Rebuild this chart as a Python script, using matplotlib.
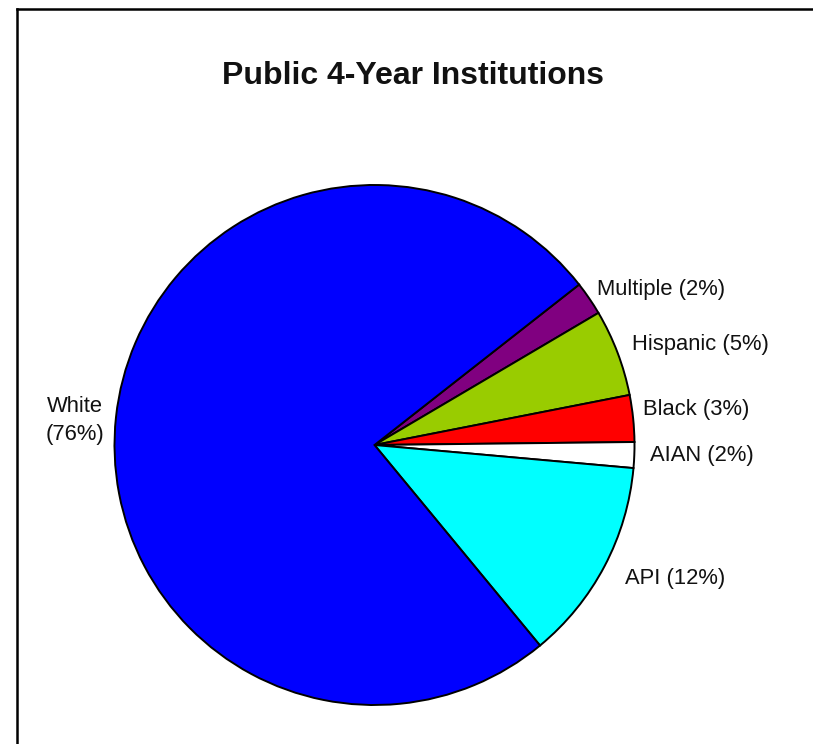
import matplotlib
matplotlib.use("Agg")
import matplotlib.pyplot as plt
from matplotlib.lines import Line2D

plt.rcParams['font.family'] = ['Liberation Sans', 'DejaVu Sans']

categories = ["Multiple", "Hispanic", "Black", "AIAN", "API", "White"]
values = [2.1, 5.4, 2.9, 1.6, 12.6, 75.4]
pct_labels = ["2%", "5%", "3%", "2%", "12%", "76%"]
colors = ["#800080", "#99CC00", "#FF0000", "#FFFFFF", "#00FFFF", "#0000FF"]
title = "Public 4-Year Institutions"

W, H = 813, 744
fig = plt.figure(figsize=(W / 100, H / 100), dpi=100)
fig.patch.set_facecolor("white")

cx, cy, r = 374.5, 445, 260
ax = fig.add_axes([(cx - r) / W, (H - cy - r) / H, 2 * r / W, 2 * r / H])
ax.set_xlim(-1, 1)
ax.set_ylim(-1, 1)
ax.axis("off")

labels = [f"{c} ({p})" if c != "White" else f"{c}\n({p})" for c, p in zip(categories, pct_labels)]
wedges, texts = ax.pie(values, colors=colors, startangle=38.1, counterclock=False,
                       radius=1, center=(0, 0), labels=labels, labeldistance=1.06,
                       wedgeprops=dict(edgecolor="black", linewidth=1.4),
                       textprops=dict(fontsize=15.8, color="#111111"))
ax.set_xlim(-1, 1)
ax.set_ylim(-1, 1)

# small label nudges (in pie-radius units)
nudges = {"Multiple": (-0.02, 0.0), "Hispanic": (0.0, 0.008), "Black": (-0.023, 0.027),
          "AIAN": (0.0, 0.0), "API": (0.027, -0.019), "White": (-0.1, -0.02)}
for t, c in zip(texts, categories):
    dx, dy = nudges[c]
    x, y = t.get_position()
    t.set_position((x + dx, y + dy))
    if c == "White":
        t.set_ha("center")
        t.set_multialignment("center")
        t.set_linespacing(1.45)

fig.text(413 / W, 1 - 76 / H, title, ha="center", va="center",
         fontsize=23, fontweight="bold", color="#111111")

# frame lines (left and top)
fig.add_artist(Line2D([17 / W, 17 / W], [0, 1 - 9 / H], transform=fig.transFigure,
                      color="black", linewidth=1.8))
fig.add_artist(Line2D([17 / W, 1], [1 - 9 / H, 1 - 9 / H], transform=fig.transFigure,
                      color="black", linewidth=1.8))

fig.savefig("out.png", dpi=100, facecolor="white")
